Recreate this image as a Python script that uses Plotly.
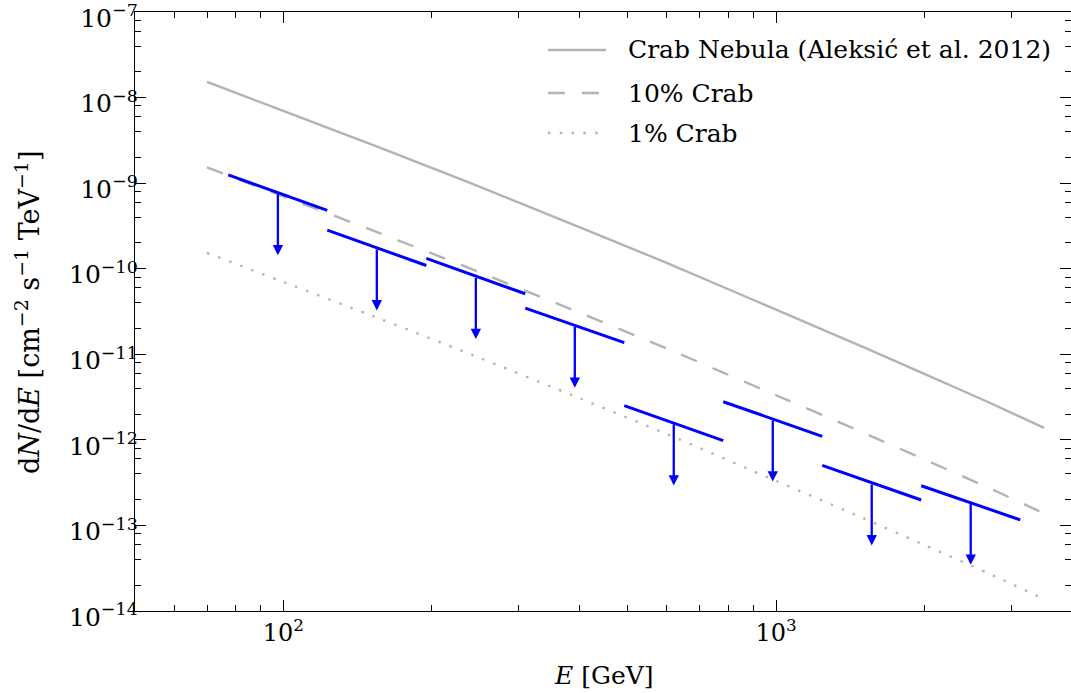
import numpy as np
import plotly.graph_objects as go

# ---------------- data ----------------
# Crab Nebula reference spectrum (GeV, cm^-2 s^-1 TeV^-1)
crab_energy_gev = [70, 100, 150, 240, 400, 600, 1000, 1500, 2000, 2700, 3500]
crab_flux = [1.53e-8, 7.0e-9, 2.88e-9, 1.0e-9, 3.05e-10, 1.17e-10,
             3.32e-11, 1.22e-11, 5.9e-12, 2.75e-12, 1.38e-12]
crab_fractions = [1.0, 0.1, 0.01]
crab_labels = ["Crab Nebula (Aleksić et al. 2012)", "10% Crab", "1% Crab"]

# Differential flux upper limits per energy bin
ul_energy_center = [97.5, 154.8, 245.9, 390.5, 620.1, 984.9, 1564, 2484]
ul_energy_low = [77.3, 122.8, 195.1, 309.8, 492.0, 781.4, 1241, 1971]
ul_energy_high = [122.8, 195.1, 309.8, 492.0, 781.4, 1241, 1971, 3131]
ul_flux_center = [7.7e-10, 1.75e-10, 8.1e-11, 2.18e-11, 1.57e-12, 1.75e-12, 3.13e-13, 1.86e-13]
ul_flux_low = [1.25e-9, 2.83e-10, 1.32e-10, 3.47e-11, 2.51e-12, 2.79e-12, 5.02e-13, 2.91e-13]
ul_flux_high = [4.8e-10, 1.09e-10, 5.1e-11, 1.37e-11, 9.8e-13, 1.10e-12, 1.98e-13, 1.16e-13]

x_major = [100, 1000]
x_major_text = ["10<sup>2</sup>", "10<sup>3</sup>"]
y_major_exp = [-14, -13, -12, -11, -10, -9, -8, -7]

# ---------------- styling ----------------
FONT = "DejaVu Serif"
FS = 24
GRAY = "#b3b3b3"
BLUE = "#0000ff"
W, H = 1071, 693
ML, MR, MT, MB = 135, 0, 12, 82
PW, PH = W - ML - MR, H - MT - MB
X_LO = np.log10(50)
PX_PER_DEC_X = 492.7
X_HI = X_LO + PW / PX_PER_DEC_X
ARROW_DROP_DEC = 0.73

fig = go.Figure()

dash_styles = ["solid", "17px,17px", "2.4px,9.4px"]
for frac, lab, dsh in zip(crab_fractions, crab_labels, dash_styles):
    fig.add_trace(go.Scatter(
        x=crab_energy_gev, y=[f * frac for f in crab_flux], mode="lines",
        line=dict(color=GRAY, width=2.4, dash=dsh, shape="spline", smoothing=0.6),
        name=lab, showlegend=False, hoverinfo="skip"))

# upper-limit segments
seg_x, seg_y = [], []
for el, eh, fl, fh in zip(ul_energy_low, ul_energy_high, ul_flux_low, ul_flux_high):
    seg_x += [el, eh, None]
    seg_y += [fl, fh, None]
fig.add_trace(go.Scatter(x=seg_x, y=seg_y, mode="lines",
                         line=dict(color=BLUE, width=3), showlegend=False,
                         hoverinfo="skip"))

annotations = []
for ec, fc in zip(ul_energy_center, ul_flux_center):
    annotations.append(dict(
        x=np.log10(ec), y=np.log10(fc) - ARROW_DROP_DEC,
        ax=np.log10(ec), ay=np.log10(fc),
        xref="x", yref="y", axref="x", ayref="y",
        text="", showarrow=True, arrowhead=2, arrowsize=0.9,
        arrowwidth=2.3, arrowcolor=BLUE))

def px2paper_x(px):
    return (px - ML) / PW

def py2paper_y(py):
    return (H - MB - py) / PH

# manual legend
legend_rows_y = [50, 93, 133]
shapes = []
for (lab, dsh, ry) in zip(crab_labels, dash_styles, legend_rows_y):
    shapes.append(dict(type="line", xref="paper", yref="paper",
                       x0=px2paper_x(548), x1=px2paper_x(606),
                       y0=py2paper_y(ry), y1=py2paper_y(ry),
                       line=dict(color=GRAY, width=2.4, dash=dsh)))
    annotations.append(dict(x=px2paper_x(626), y=py2paper_y(ry),
                            xref="paper", yref="paper", text=lab,
                            showarrow=False, xanchor="left", yanchor="middle",
                            font=dict(family=FONT, size=25, color="black")))

# axis titles
annotations.append(dict(x=px2paper_x(604), y=py2paper_y(675), xref="paper", yref="paper",
                        text="<i>E</i> [GeV]", showarrow=False,
                        xanchor="center", yanchor="middle",
                        font=dict(family=FONT, size=25, color="black")))
annotations.append(dict(x=px2paper_x(27), y=py2paper_y(313), xref="paper", yref="paper",
                        text="d<i>N</i>/d<i>E</i> [cm<sup>−2</sup> s<sup>−1</sup> TeV<sup>−1</sup>]",
                        textangle=-90, showarrow=False,
                        xanchor="center", yanchor="middle",
                        font=dict(family=FONT, size=27, color="black")))

y_minor = []
for e in range(-14, -7):
    for m in (2, 4, 6, 8):
        y_minor.append(m * 10.0 ** e)
x_minor = [60, 70, 80, 90, 200, 300, 400, 500, 600, 700, 800, 900, 2000, 3000]

axis_common = dict(showline=True, linecolor="black", linewidth=1.4,
                   mirror="allticks", ticks="inside", tickcolor="black",
                   tickwidth=1.4, ticklen=11, showgrid=False, zeroline=False,
                   ticklabeloverflow="allow")

fig.update_layout(
    width=W, height=H, margin=dict(l=ML, r=MR, t=MT, b=MB, autoexpand=False),
    paper_bgcolor="white", plot_bgcolor="white", showlegend=False,
    xaxis=dict(type="log", range=[X_LO, X_HI], tickmode="array",
               tickvals=x_major, ticktext=x_major_text,
               tickfont=dict(family=FONT, size=FS, color="black"),
               minor=dict(tickmode="array", tickvals=x_minor, ticks="inside",
                          ticklen=6, tickwidth=1.2, tickcolor="black"),
               **axis_common),
    yaxis=dict(type="log", range=[-14.0005, -6.9995], tickmode="array",
               tickvals=[10.0 ** e for e in y_major_exp],
               ticktext=[f"10<sup>−{-e}</sup>" for e in y_major_exp],
               tickfont=dict(family=FONT, size=25, color="black"),
               ticklabelstandoff=-9, ticklabelshift=6,
               minor=dict(tickmode="array", tickvals=y_minor, ticks="inside",
                          ticklen=6, tickwidth=1.2, tickcolor="black"),
               **axis_common),
    annotations=annotations, shapes=shapes,
)

fig.write_html("out.html")
